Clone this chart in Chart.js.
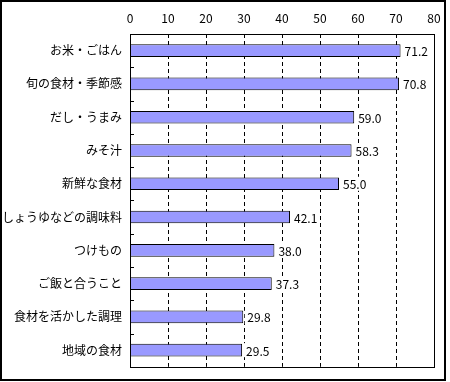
<!DOCTYPE html>
<html>
<head>
<meta charset="utf-8">
<script src="https://cdn.jsdelivr.net/npm/chart.js@4"></script>
<style>
html,body{margin:0;padding:0;background:#fff;}
#wrap{width:450px;height:382px;}
</style>
</head>
<body>
<div id="wrap"><canvas id="c" width="450" height="382"></canvas></div>
<script>
const categories = ['お米・ごはん','旬の食材・季節感','だし・うまみ','みそ汁','新鮮な食材','しょうゆなどの調味料','つけもの','ご飯と合うこと','食材を活かした調理','地域の食材'];
const values = [71.2, 70.8, 59.0, 58.3, 55.0, 42.1, 38.0, 37.3, 29.8, 29.5];
const xMin = 0, xMax = 80, xStep = 10;

const FONT = '"Noto Sans CJK JP", "Noto Sans", sans-serif';

const framePlugin = {
  id: 'framePlugin',
  beforeDatasetsDraw(chart) {
    const ctx = chart.ctx;
    const a = chart.chartArea;
    const xs = chart.scales.x;
    ctx.save();
    ctx.strokeStyle = '#000';
    ctx.lineWidth = 1;
    ctx.setLineDash([4, 3]);
    ctx.beginPath();
    xs.ticks.forEach(t => {
      if (t.value === xMin || t.value === xMax) return;
      const x = Math.round(xs.getPixelForValue(t.value)) + 0.5;
      ctx.moveTo(x, a.top);
      ctx.lineTo(x, a.bottom);
    });
    ctx.stroke();
    ctx.restore();
  },
  afterDatasetsDraw(chart) {
    const ctx = chart.ctx;
    const a = chart.chartArea;
    const ys = chart.scales.y;
    ctx.save();
    // value labels with white background
    ctx.font = '12px ' + FONT;
    ctx.textBaseline = 'middle';
    ctx.textAlign = 'left';
    const meta = chart.getDatasetMeta(0);
    meta.data.forEach((bar, i) => {
      const txt = values[i].toFixed(1);
      const w = ctx.measureText(txt).width;
      ctx.fillStyle = '#fff';
      ctx.fillRect(bar.x + 1.5, bar.y - 7, w + 5, 14);
      ctx.fillStyle = '#000';
      ctx.fillText(txt, bar.x + 4, bar.y + 1);
    });
    // plot border
    ctx.strokeStyle = '#000';
    ctx.lineWidth = 1;
    ctx.setLineDash([]);
    ctx.strokeRect(Math.round(a.left) + 0.5, Math.round(a.top) + 0.5, Math.round(a.right - a.left), Math.round(a.bottom - a.top));
    // inner ticks on category boundaries
    ctx.beginPath();
    for (let i = 1; i < categories.length; i++) {
      const y = Math.round(ys.getPixelForValue(i - 0.5)) + 0.5;
      ctx.moveTo(a.left, y);
      ctx.lineTo(a.left + 4, y);
    }
    ctx.stroke();
    // outer frame
    ctx.lineWidth = 2;
    ctx.strokeRect(1, 1, 444, 379);
    ctx.restore();
  }
};

new Chart(document.getElementById('c'), {
  type: 'bar',
  data: {
    labels: categories,
    datasets: [{
      data: values,
      backgroundColor: '#9999FF',
      borderColor: '#000',
      borderWidth: 1,
      categoryPercentage: 1.0,
      barPercentage: 0.38
    }]
  },
  options: {
    indexAxis: 'y',
    responsive: false,
    animation: false,
    devicePixelRatio: 1,
    layout: { padding: { left: 0, top: 0, right: 16, bottom: 6 } },
    plugins: { legend: { display: false }, tooltip: { enabled: false } },
    scales: {
      x: {
        position: 'top',
        min: xMin, max: xMax,
        ticks: { stepSize: xStep, color: '#000', font: { family: FONT, size: 12 }, padding: 8 },
        grid: { display: false, drawTicks: false },
        border: { display: false },
        afterFit(s) { s.height = 34; }
      },
      y: {
        ticks: { color: '#000', font: { family: FONT, size: 12 }, padding: 8 },
        grid: { display: false, drawTicks: false },
        border: { display: false },
        afterFit(s) { s.width = 130; }
      }
    }
  },
  plugins: [framePlugin]
});
</script>
</body>
</html>
